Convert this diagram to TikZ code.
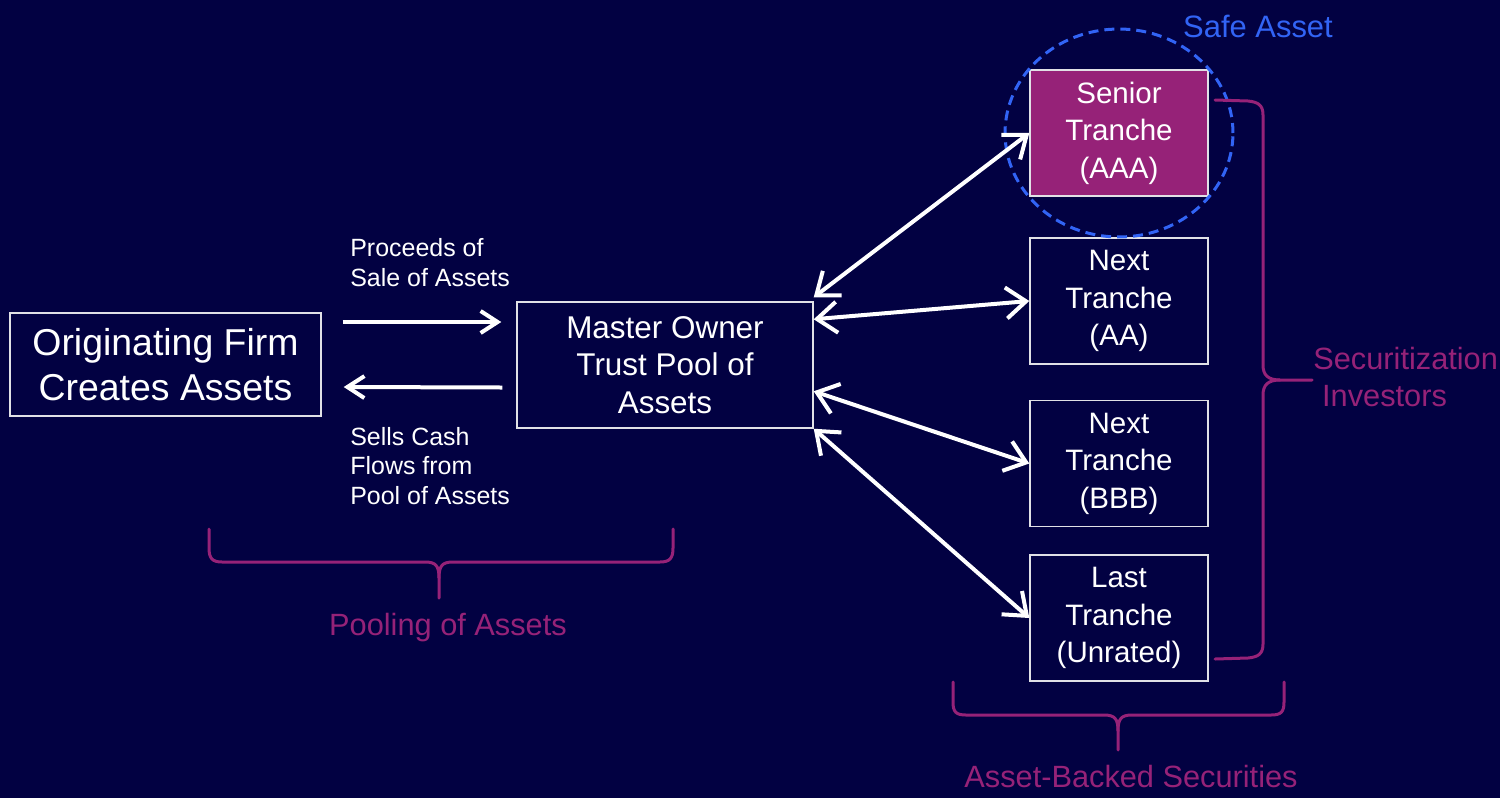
\documentclass[tikz,border=0pt]{standalone}
\usepackage{fontspec}
\setmainfont{Liberation Sans}
\usetikzlibrary{arrows.meta,calc}
\definecolor{bg}{RGB}{2,1,66}
\definecolor{mag}{RGB}{150,34,120}
\definecolor{sblue}{RGB}{50,100,245}
\definecolor{boxline}{RGB}{225,225,230}
\begin{document}
\begin{tikzpicture}[x=0.02cm, y=-0.02cm,
  box/.style={draw=boxline, line width=0.03cm, inner sep=0pt, align=center, text=white},
  trbox/.style={box, minimum width=3.56cm, minimum height=2.52cm, font=\fontsize{16.8}{21.3}\selectfont},
  flow/.style={white, line width=0.08cm, -{Straight Barb[length=0.34cm,width=0.44cm]}},
  dbl/.style={white, line width=0.08cm, {Straight Barb[length=0.4cm,width=0.62cm]}-{Straight Barb[length=0.4cm,width=0.62cm]}},
  brc/.style={draw=mag, line width=0.06cm, line cap=round, line join=round},
  lbl/.style={text=white, align=left, inner sep=0pt, anchor=west, font=\fontsize{14.2}{17}\selectfont},
  mlbl/.style={text=mag, inner sep=0pt, font=\fontsize{17.5}{21.5}\selectfont}]
\useasboundingbox (0,0) rectangle (1500,798);
\fill[bg] (0,0) rectangle (1500,798);

% boxes
\node[box, minimum width=6.22cm, minimum height=2.06cm, font=\fontsize{21.3}{25.5}\selectfont] (orig) at (165.5,364.5) {Originating Firm\\Creates Assets};
\node[box, minimum width=5.92cm, minimum height=2.52cm, font=\fontsize{17.9}{21.2}\selectfont] (master) at (665,365) {Master Owner\\Trust Pool of\\Assets};
\node[trbox, fill=mag] (senior) at (1119,133) {Senior\\Tranche\\(AAA)};
\node[trbox] (aa) at (1119,301) {Next\\Tranche\\(AA)};
\node[trbox] (bbb) at (1119,463.5) {Next\\Tranche\\(BBB)};
\node[trbox] (last) at (1119,618) {Last\\Tranche\\(Unrated)};

% safe asset
\draw[sblue, line width=0.06cm, dash pattern=on 0.2cm off 0.12cm] (senior.center) ellipse [x radius=2.28cm, y radius=2.08cm];
\node[text=sblue, inner sep=0pt, font=\fontsize{17.6}{21}\selectfont] (safe) at (1258,26) {Safe Asset};

% left flows
\draw[flow] ($(orig.east)+(21,-42.5)$) -- ($(master.west)+(-15,-43)$);
\draw[flow] ($(master.west)+(-14,22.5)$) -- ($(orig.east)+(22,22.5)$);
\node[lbl] (proc) at (350,263) {Proceeds of\\Sale of Assets};
\node[lbl] (sells) at (350,466) {Sells Cash\\Flows from\\Pool of Assets};

% tranche arrows
\draw[dbl] ($(master.north east)+(0,-4)$) -- (senior.west);
\draw[dbl] ($(master.north east)+(0,18)$) -- (aa.west);
\draw[dbl] ($(master.north east)+(0,90)$) -- (bbb.west);
\draw[dbl] (master.south east) -- (last.west);

% braces
\draw[brc] (209,529) -- (209,548) .. controls (209,558) and (212,562) .. (222,562) -- (425,562) .. controls (436,562) and (439,566) .. (439,578) -- (439,598);
\draw[brc] (673,529) -- (673,548) .. controls (673,558) and (670,562) .. (660,562) -- (453,562) .. controls (442,562) and (439,566) .. (439,578);
\node[mlbl] (pool) at (448,628) {Pooling of Assets};

\draw[brc] (953,682) -- (953,702) .. controls (953,712) and (956,715) .. (966,715) -- (1104,715) .. controls (1115,715) and (1118,719) .. (1118,731) -- (1118,750);
\draw[brc] (1284,682) -- (1284,702) .. controls (1284,712) and (1281,715) .. (1271,715) -- (1132,715) .. controls (1121,715) and (1118,719) .. (1118,731);
\node[mlbl] (abs) at (1131,776) {Asset-Backed Securities};

\draw[brc] (1215,100) -- (1248,101) .. controls (1258,102) and (1263,105) .. (1263,115) -- (1263,365) .. controls (1263,375) and (1268,380) .. (1280,380) -- (1312,380);
\draw[brc] (1215,659) -- (1248,658) .. controls (1258,657) and (1263,654) .. (1263,644) -- (1263,395) .. controls (1263,385) and (1268,380) .. (1280,380);
\node[mlbl, anchor=west, align=left] (inv) at (1313,377) {Securitization\\\hspace{5pt}Investors};
\end{tikzpicture}
\end{document}
